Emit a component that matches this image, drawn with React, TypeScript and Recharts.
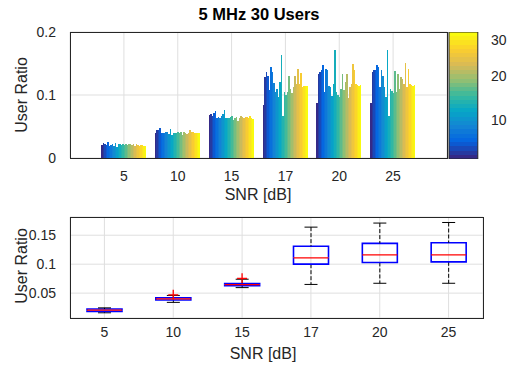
import React from 'react';
import { BarChart, Bar, ComposedChart, Scatter, XAxis, YAxis, CartesianGrid } from 'recharts';

// SNR categories (x axis)
const snrLabels = ['5', '10', '15', '17', '20', '25'];

// user ratio of each of the 30 users, one list per SNR
const ratioSnr5 = [0.021, 0.0245, 0.022, 0.021, 0.025, 0.0195, 0.021, 0.0225, 0.019, 0.0245, 0.017, 0.0215, 0.0225, 0.0205, 0.022, 0.021, 0.0215, 0.0205, 0.022, 0.0225, 0.0205, 0.0215, 0.019, 0.022, 0.0205, 0.0195, 0.0205, 0.02, 0.0195, 0.019];
const ratioSnr10 = [0.039, 0.044, 0.045, 0.047, 0.04, 0.0395, 0.04, 0.0405, 0.041, 0.038, 0.046, 0.037, 0.0395, 0.04, 0.0395, 0.042, 0.04, 0.041, 0.037, 0.0405, 0.04, 0.038, 0.04, 0.044, 0.041, 0.042, 0.04, 0.039, 0.0395, 0.039];
const ratioSnr15 = [0.068, 0.07, 0.066, 0.071, 0.074, 0.063, 0.065, 0.064, 0.066, 0.07, 0.0755, 0.064, 0.063, 0.064, 0.065, 0.066, 0.06, 0.064, 0.065, 0.059, 0.064, 0.066, 0.0645, 0.063, 0.065, 0.0645, 0.0635, 0.066, 0.064, 0.062];
const ratioSnr17 = [0.084, 0.129, 0.137, 0.13, 0.108, 0.145, 0.137, 0.119, 0.105, 0.11, 0.097, 0.12, 0.163, 0.066, 0.105, 0.1, 0.105, 0.13, 0.11, 0.103, 0.112, 0.13, 0.117, 0.141, 0.117, 0.135, 0.113, 0.114, 0.115, 0.114];
const ratioSnr20 = [0.087, 0.134, 0.137, 0.139, 0.148, 0.105, 0.141, 0.14, 0.115, 0.112, 0.098, 0.118, 0.171, 0.104, 0.1, 0.097, 0.11, 0.134, 0.108, 0.12, 0.134, 0.096, 0.112, 0.118, 0.149, 0.14, 0.118, 0.116, 0.115, 0.116];
const ratioSnr25 = [0.087, 0.137, 0.139, 0.14, 0.148, 0.145, 0.112, 0.139, 0.13, 0.113, 0.097, 0.172, 0.066, 0.109, 0.106, 0.103, 0.138, 0.105, 0.134, 0.11, 0.128, 0.126, 0.118, 0.151, 0.113, 0.142, 0.118, 0.116, 0.115, 0.116];
const userRatios = [ratioSnr5, ratioSnr10, ratioSnr15, ratioSnr17, ratioSnr20, ratioSnr25];

// box plot statistics per SNR
const boxMin = [0.016, 0.034, 0.0595, 0.065, 0.067, 0.067];
const boxQ1 = [0.0185, 0.038, 0.063, 0.1, 0.103, 0.104];
const boxMedian = [0.0205, 0.04, 0.0645, 0.111, 0.116, 0.116];
const boxQ3 = [0.0225, 0.042, 0.0665, 0.131, 0.136, 0.137];
const boxMax = [0.0245, 0.046, 0.074, 0.164, 0.171, 0.172];
const boxOutlier = [null, 0.047, 0.0755, null, null, null];

const colorbarRange = [1, 30];
const colorbarTicks = [10, 20, 30];
const userCount = 30;

// parula-like colormap
const parulaStops = ['#352a87', '#0363e1', '#1485d4', '#06a7c6', '#38b99e', '#92bf73', '#d9ba56', '#fcce2e', '#f9fb0e'];
function hexToRgb(h: string) {
  return [1, 3, 5].map((i) => parseInt(h.slice(i, i + 2), 16));
}
function parula(t: number) {
  const pos = t * (parulaStops.length - 1);
  const i = Math.min(Math.floor(pos), parulaStops.length - 2);
  const f = pos - i;
  const a = hexToRgb(parulaStops[i]);
  const b = hexToRgb(parulaStops[i + 1]);
  const c = a.map((v, k) => Math.round(v + (b[k] - v) * f));
  return `rgb(${c[0]},${c[1]},${c[2]})`;
}
const userColors = Array.from({ length: userCount }, (_, i) => parula(i / (userCount - 1)));

const barRows = snrLabels.map((snr, s) => {
  const row: Record<string, any> = { snr };
  userRatios[s].forEach((v, u) => { row[`u${u + 1}`] = v; });
  return row;
});

const boxRows = snrLabels.map((snr, i) => ({
  snr,
  base: boxMin[i],
  lw: boxQ1[i] - boxMin[i],
  lb: boxMedian[i] - boxQ1[i],
  ub: boxQ3[i] - boxMedian[i],
  uw: boxMax[i] - boxQ3[i],
  out: boxOutlier[i],
}));

const colorbarRows = [{ k: 'users', range: colorbarRange }];

const FONT = '"Liberation Sans", Arial, sans-serif';
const TXT = '#262626';
const GRID = '#dfdfdf';
const tickStyle = { fill: TXT, fontSize: 14, fontFamily: FONT };

const LowerWhisker = (p: any) => {
  const cx = p.x + p.width / 2;
  return (
    <g>
      <line x1={cx} x2={cx} y1={p.y} y2={p.y + p.height} stroke="#000" strokeDasharray="4 2" />
      <line x1={cx - 6.5} x2={cx + 6.5} y1={p.y + p.height} y2={p.y + p.height} stroke="#000" />
    </g>
  );
};
const UpperWhisker = (p: any) => {
  const cx = p.x + p.width / 2;
  return (
    <g>
      <line x1={cx} x2={cx} y1={p.y} y2={p.y + p.height} stroke="#000" strokeDasharray="4 2" />
      <line x1={cx - 6.5} x2={cx + 6.5} y1={p.y} y2={p.y} stroke="#000" />
    </g>
  );
};
const LowerBox = (p: any) => (
  <path d={`M${p.x},${p.y} V${p.y + p.height} H${p.x + p.width} V${p.y}`} fill="none" stroke="#0000ff" strokeWidth={1.6} />
);
const UpperBox = (p: any) => (
  <g>
    <path d={`M${p.x},${p.y + p.height} V${p.y} H${p.x + p.width} V${p.y + p.height}`} fill="none" stroke="#0000ff" strokeWidth={1.6} />
    <line x1={p.x} x2={p.x + p.width} y1={p.y + p.height} y2={p.y + p.height} stroke="#ff0000" strokeWidth={1.2} />
  </g>
);
const PlusMark = (p: any) => {
  if (p.payload == null || p.payload.out == null) return <g />;
  return (
    <g stroke="#ff0000" strokeWidth={1.3}>
      <line x1={p.cx - 5} x2={p.cx + 5} y1={p.cy} y2={p.cy} />
      <line x1={p.cx} x2={p.cx} y1={p.cy - 5} y2={p.cy + 5} />
    </g>
  );
};

function Label({ text, x, y, rotate, bold, size = 16 }: any) {
  return (
    <div
      style={{
        position: 'absolute', left: x, top: y, transform: `translate(-50%, -50%)${rotate ? ' rotate(-90deg)' : ''}`,
        fontSize: size, fontWeight: bold ? 'bold' : 'normal', color: bold ? '#000' : TXT, whiteSpace: 'nowrap', lineHeight: 1,
      }}
    >
      {text}
    </div>
  );
}

function Frame({ left, top, width, height }: any) {
  return <div style={{ position: 'absolute', left, top, width, height, border: `1px solid ${TXT}`, pointerEvents: 'none' }} />;
}

export default function App() {
  return (
    <div style={{ position: 'absolute', left: 0, top: 0, width: 507, height: 369, background: '#fff', fontFamily: FONT, overflow: 'hidden' }}>
      <style>{'.bars .recharts-bar-rectangle path{shape-rendering:crispEdges}'}</style>

      <div className="bars" style={{ position: 'absolute', left: 0, top: 0 }}>
        <BarChart width={447} height={188} data={barRows} margin={{ top: 32, right: 0, left: 0, bottom: 0 }} barGap={0} barSize={1.5}>
          <CartesianGrid stroke={GRID} />
          <XAxis dataKey="snr" padding={{ left: 27, right: 27 }} axisLine={false} tickLine={false} tickMargin={7} height={30} interval={0} tick={tickStyle} />
          <YAxis domain={[0, 0.2]} ticks={[0, 0.1, 0.2]} width={70} axisLine={false} tickLine={false} tickMargin={8} tick={tickStyle} />
          {userColors.map((c, i) => (
            <Bar key={i} dataKey={`u${i + 1}`} fill={c} isAnimationActive={false} />
          ))}
        </BarChart>
      </div>
      <Frame left={70} top={32} width={376} height={125} />

      <div style={{ position: 'absolute', left: 447, top: 32 }}>
        <BarChart width={72} height={127} data={colorbarRows} margin={{ top: 0, right: 0, left: 0, bottom: 0 }} barCategoryGap={0}>
          <defs>
            <linearGradient id="parulaBar" x1="0" y1="1" x2="0" y2="0">
              {userColors.flatMap((c, i) => [
                <stop key={`a${i}`} offset={i / userCount} stopColor={c} />,
                <stop key={`b${i}`} offset={(i + 1) / userCount} stopColor={c} />,
              ])}
            </linearGradient>
          </defs>
          <XAxis dataKey="k" hide />
          <YAxis orientation="right" domain={colorbarRange} ticks={colorbarTicks} width={40} axisLine={false} tickLine={false} tickMargin={6} tick={tickStyle} />
          <Bar dataKey="range" fill="url(#parulaBar)" barSize={32} stroke={TXT} isAnimationActive={false} />
        </BarChart>
      </div>

      <div style={{ position: 'absolute', left: 0, top: 0 }}>
        <ComposedChart width={483} height={348} data={boxRows} margin={{ top: 217, right: 0, left: 0, bottom: 0 }}>
          <CartesianGrid stroke={GRID} />
          <XAxis dataKey="snr" axisLine={false} tickLine={false} tickMargin={3} height={30} interval={0} tick={tickStyle} />
          <YAxis domain={[0.007, 0.1815]} ticks={[0.05, 0.1, 0.15]} allowDataOverflow width={70} axisLine={false} tickLine={false} tickMargin={8} tick={tickStyle} />
          <Bar dataKey="base" stackId="b" barSize={35} fill="none" isAnimationActive={false} />
          <Bar dataKey="lw" stackId="b" barSize={35} shape={LowerWhisker} isAnimationActive={false} />
          <Bar dataKey="lb" stackId="b" barSize={35} shape={LowerBox} isAnimationActive={false} />
          <Bar dataKey="ub" stackId="b" barSize={35} shape={UpperBox} isAnimationActive={false} />
          <Bar dataKey="uw" stackId="b" barSize={35} shape={UpperWhisker} isAnimationActive={false} />
          <Scatter dataKey="out" shape={PlusMark} isAnimationActive={false} />
        </ComposedChart>
      </div>
      <Frame left={70} top={217} width={412} height={100} />

      <Label text="5 MHz 30 Users" x={259} y={14} bold size={16.5} />
      <Label text="User Ratio" x={22} y={95} rotate />
      <Label text="SNR [dB]" x={258} y={195} />
      <Label text="User Ratio" x={22} y={266} rotate />
      <Label text="SNR [dB]" x={263} y={354} />
    </div>
  );
}
